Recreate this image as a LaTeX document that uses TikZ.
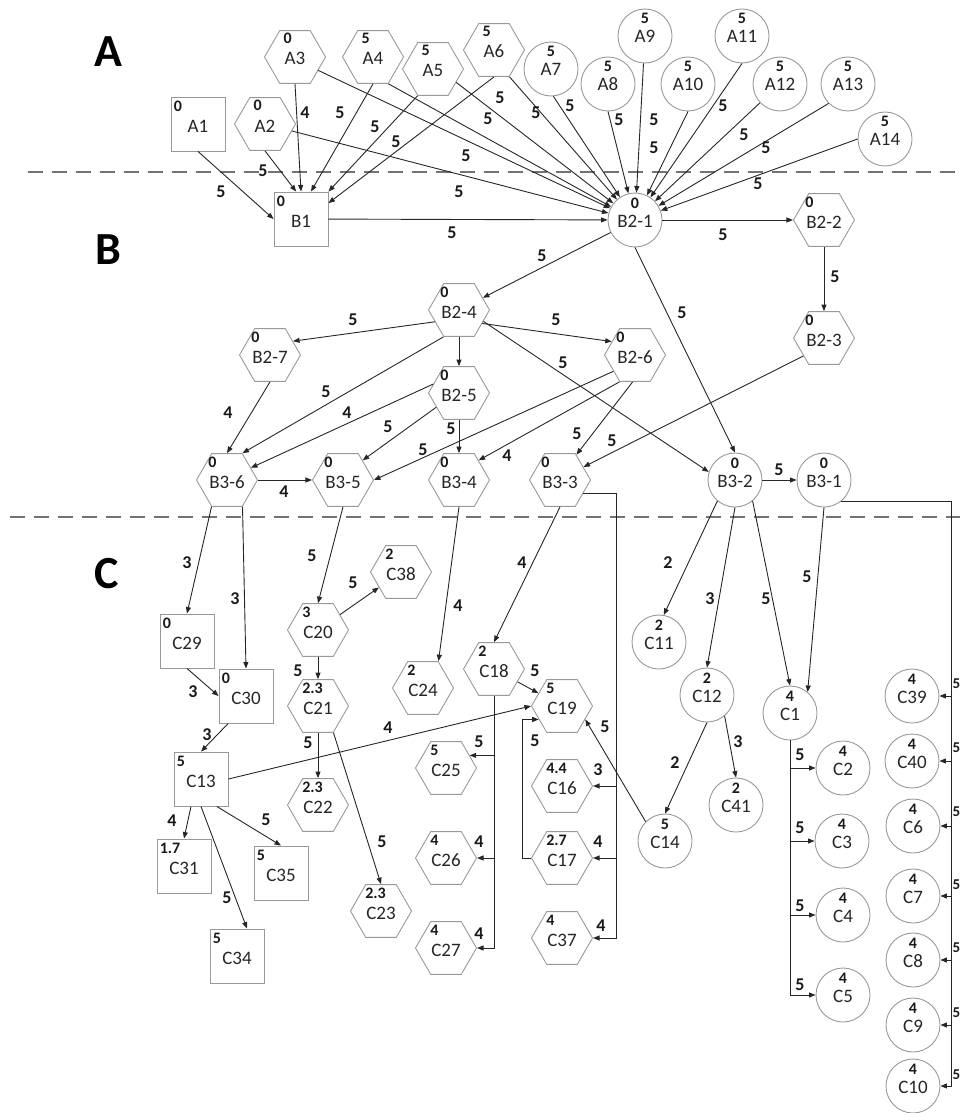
\documentclass[tikz,border=0pt]{standalone}
\usepackage{fontspec}
\setmainfont{Carlito}
\usetikzlibrary{calc,shapes.geometric,arrows.meta}
\definecolor{bordc}{gray}{0.6}
\definecolor{linec}{gray}{0.15}
\definecolor{dashc}{gray}{0.45}
\newcount\elc
\newcommand\SqN[4]{%
  \node[sqs] (#1) at (#2) {};
  \node[lab, anchor=base] (#1l) at ($(#1.center)+(0,8)$) {#4};
  \node[num, anchor=base west] (#1n) at ($(#1.north west)+(3,15)$) {#3};}
\newcommand\HxN[4]{%
  \node[hexs] (#1) at (#2) {};
  \node[lab, anchor=base] (#1l) at ($(#1.center)+(0,8)$) {#4};
  \node[num, anchor=base west] (#1n) at ($(#1l.base west)+(-1,-21)$) {#3};}
\newcommand\CiN[4]{%
  \node[cis] (#1) at (#2) {};
  \node[lab, anchor=base] (#1l) at ($(#1.center)+(0,7)$) {#4};
  \node[num, anchor=base] (#1n) at ($(#1.center)+(0,-12)$) {#3};}
\newcommand\EL[2]{\global\advance\elc by 1 \node[elab] (el\the\elc) at (#1) {#2};}
\newcommand\ER[2]{\global\advance\elc by 1 \node[elab, font=\bfseries\fontsize{15}{15}\selectfont] (el\the\elc) at (#1) {#2};}
\begin{document}
\begin{tikzpicture}[x=1pt,y=-1pt,
  nb/.style={draw=bordc, line width=0.9pt, inner sep=0pt},
  cis/.style={nb, circle, minimum size=54},
  sqs/.style={nb, rectangle, minimum size=54},
  hexs/.style={nb, regular polygon, regular polygon sides=6, minimum size=61},
  lab/.style={inner sep=0pt, text=black!85, font=\fontsize{19}{19}\selectfont},
  num/.style={inner sep=0pt, text=black!90, font=\bfseries\fontsize{16}{16}\selectfont},
  elab/.style={inner sep=0pt, text=black!90, font=\bfseries\fontsize{18}{18}\selectfont},
  sec/.style={inner sep=0pt, font=\bfseries\fontsize{46}{46}\selectfont},
  ed/.style={draw=linec, line width=0.9pt, -{Triangle[length=6.5pt,width=5pt]}},
  dl/.style={draw=dashc, line width=1.3pt, dash pattern=on 15pt off 9pt}]
\useasboundingbox (0,0) rectangle (960,1113);
% section letters and separators
\node[sec] (secA) at (108,52) {A};
\node[sec] (secB) at (108,250) {B};
\node[sec] (secC) at (107,574) {C};
\coordinate (d1a) at (28,172); \coordinate (d1b) at (960,172);
\coordinate (d2a) at (10,517); \coordinate (d2b) at (960,517);
\draw[dl] (d1a) -- (d1b);
\draw[dl] (d2a) -- (d2b);
% ---------- nodes A ----------
\SqN{A1}{198,124}{0}{A1}
\HxN{A2}{265,124}{0}{A2}
\HxN{A3}{295,57}{0}{A3}
\HxN{A4}{373,57}{5}{A4}
\HxN{A5}{433,69}{5}{A5}
\HxN{A6}{494,50}{5}{A6}
\CiN{A7}{551,69}{5}{A7}
\CiN{A8}{608,84}{5}{A8}
\CiN{A9}{645,36}{5}{A9}
\CiN{A10}{688,84}{5}{A10}
\CiN{A11}{742,36}{5}{A11}
\CiN{A12}{780,84}{5}{A12}
\CiN{A13}{848,84}{5}{A13}
\CiN{A14}{885,139}{5}{A14}
% ---------- nodes B ----------
\SqN{B1}{301,219}{0}{B1}
\CiN{B21}{635,220}{0}{B2-1}
\HxN{B22}{824,220}{0}{B2-2}
\HxN{B23}{824,338}{0}{B2-3}
\HxN{B24}{459,310}{0}{B2-4}
\HxN{B25}{459,393}{0}{B2-5}
\HxN{B26}{635,355}{0}{B2-6}
\HxN{B27}{270,355}{0}{B2-7}
\HxN{B36}{227,480}{0}{B3-6}
\HxN{B35}{343,480}{0}{B3-5}
\HxN{B34}{459,480}{0}{B3-4}
\HxN{B33}{560,480}{0}{B3-3}
\CiN{B32}{735,480}{0}{B3-2}
\CiN{B31}{824,480}{0}{B3-1}
% ---------- nodes C ----------
\SqN{C29}{187,641}{0}{C29}
\SqN{C30}{246,696}{0}{C30}
\SqN{C13}{201,779}{5}{C13}
\SqN{C31}{184,866}{1.7}{C31}
\SqN{C35}{281,873}{5}{C35}
\SqN{C34}{237,956}{5}{C34}
\HxN{C20}{318,630}{3}{C20}
\HxN{C38}{401,572}{2}{C38}
\HxN{C21}{318,706}{2.3}{C21}
\HxN{C22}{318,805}{2.3}{C22}
\HxN{C23}{381,911}{2.3}{C23}
\HxN{C24}{423,688}{2}{C24}
\HxN{C25}{446,768}{5}{C25}
\HxN{C26}{446,858}{4}{C26}
\HxN{C27}{446,948}{4}{C27}
\HxN{C18}{494,669}{2}{C18}
\HxN{C19}{562,706}{5}{C19}
\HxN{C16}{562,786}{4.4}{C16}
\HxN{C17}{562,858}{2.7}{C17}
\HxN{C37}{562,938}{4}{C37}
\CiN{C11}{659,642}{2}{C11}
\CiN{C12}{707,695}{2}{C12}
\CiN{C1}{790,713}{4}{C1}
\CiN{C41}{736,805}{2}{C41}
\CiN{C14}{665,841}{5}{C14}
\CiN{C2}{843,768}{4}{C2}
\CiN{C3}{842,841}{4}{C3}
\CiN{C4}{843,915}{4}{C4}
\CiN{C5}{843,995}{4}{C5}
\CiN{C39}{912,696}{4}{C39}
\CiN{C40}{912,761}{4}{C40}
\CiN{C6}{913,826}{4}{C6}
\CiN{C7}{913,896}{4}{C7}
\CiN{C8}{913,960}{4}{C8}
\CiN{C9}{913,1025}{4}{C9}
\CiN{C10}{913,1086}{4}{C10}
% ---------- edges A -> B ----------
\draw[ed] (A1.south) -- (B1.west);
\draw[ed] (A2.south) -- (B1.100);
\draw[ed] (A3.south) -- (B1.north);
\draw[ed] (A4.south) -- (B1.70);
\draw[ed] (A5.-120) -- (B1.north east);
\draw[ed] (A6.south) -- (B1.30);
\draw[ed] (A2) -- (B21);
\draw[ed] (A3.-30) -- (B21);
\draw[ed] (A4.-60) -- (B21);
\draw[ed] (A5.-30) -- (B21);
\draw[ed] (A6.-60) -- (B21);
\draw[ed] (A7.-85) -- (B21);
\draw[ed] (A8.south) -- (B21);
\draw[ed] (A9) -- (B21);
\draw[ed] (A10.south) -- (B21);
\draw[ed] (A11.south) -- (B21);
\draw[ed] (A12) -- (B21);
\draw[ed] (A13.-135) -- (B21);
\draw[ed] (A14.west) -- (B21);
\draw[ed] (B1) -- (B21);
\EL{221,192}{5} \EL{263,171}{5} \EL{305,113}{4} \EL{340,113}{5}
\EL{375,127}{5} \EL{396,142}{5}
\EL{459,192}{5} \EL{466,156}{5} \EL{488,119}{5} \EL{500,98}{5}
\EL{536,113}{5} \EL{570,106}{5} \EL{619,120}{5} \EL{654,120}{5}
\EL{654,148}{5} \EL{723,106}{5} \EL{744,135}{5} \EL{766,148}{5}
\EL{758,184}{5} \EL{452,233}{5}
% ---------- edges B ----------
\draw[ed] (B21) -- (B22);
\draw[ed] (B22) -- (B23);
\draw[ed] (B21) -- (B24);
\draw[ed] (B21.south) -- (B32.north);
\draw[ed] (B24.206) -- (B27.31);
\draw[ed] (B24.-30) -- (B26.150);
\draw[ed] (B24) -- (B25);
\draw[ed] (B24.-120) -- (B36.60);
\draw[ed] (B24.-25) -- (B32.163);
\draw[ed] (B25.161) -- (B36.27);
\draw[ed] (B25.212) -- (B35.45);
\draw[ed] (B25) -- (B34);
\draw[ed] (B26.217) -- (B35.east);
\draw[ed] (B26.-120) -- (B34.45);
\draw[ed] (B26.-95) -- (B33.57);
\draw[ed] (B23.221) -- (B33.29);
\draw[ed] (B27.south) -- (B36.north);
\draw[ed] (B36) -- (B35);
\draw[ed] (B32) -- (B31);
\EL{723,235}{5} \EL{835,277}{5} \EL{542,256}{5} \EL{682,313}{5}
\EL{353,320}{5} \EL{556,320}{5} \EL{326,392}{5} \EL{563,363}{5}
\EL{347,413}{4} \EL{388,427}{5} \EL{451,429}{5} \EL{423,450}{5}
\EL{507,456}{4} \EL{577,434}{5} \EL{612,441}{5} \EL{228,413}{4}
\EL{284,492}{4} \EL{779,470}{5}
% ---------- edges C ----------
\draw[ed] (B36.-120) -- (C29.north);
\draw[ed] (B36.-60) -- (C30.north);
\draw[ed] (C29.south) -- (C30.west);
\draw[ed] (C30.-123) -- (C13.north);
\draw[ed] (C13.250) -- (C31.north);
\draw[ed] (C13.south) -- (C34.70);
\draw[ed] (C13.-60) -- (C35.north);
\draw[ed] (C13.east) -- (C19.west);
\draw[ed] (B35.south) -- (C20.north);
\draw[ed] (C20) -- (C38);
\draw[ed] (C20) -- (C21);
\draw[ed] (C21) -- (C22);
\draw[ed] (C21.-60) -- (C23.north);
\draw[ed] (B34.south) -- (C24.60);
\draw[ed] (B33.south) -- (C18.north);
\draw[ed] (C18) -- (C19);
\draw[ed] (C18.south) |- (C27.east);
\draw[ed] (C18.south |- C26.east) -- (C26.east);
\draw[ed] (C18.south |- C25.28) -- (C25.28);
\draw[ed] (C17.west) -- ++(-9,0) |- (C19.210);
\coordinate (bt) at (616,0);
\draw[ed] (B33.-30) -- (B33.-30 -| bt) |- (C37.east);
\draw[ed] (bt |- C16.east) -- (C16.east);
\draw[ed] (bt |- C17.east) -- (C17.east);
\draw[ed] (C14.135) -- (C19.-30);
\draw[ed] (B32.-130) -- (C11.80);
\draw[ed] (B32.south) -- (C12.north);
\draw[ed] (B32.-50) -- (C1.north);
\draw[ed] (B31.south) -- (C1.50);
\draw[ed] (C12.south) -- (C14.north);
\draw[ed] (C12.-50) -- (C41.north);
\draw[ed] (C1.south) |- (C5.west);
\foreach \n in {C2,C3,C4} \draw[ed] (C1.south |- \n.west) -- (\n.west);
\coordinate (rt) at (951,0);
\draw[ed] (B31.-51) -- (B31.-51 -| rt) |- (C10.east);
\foreach \n in {C39,C40,C6,C7,C8,C9} \draw[ed] (rt |- \n.east) -- (\n.east);
\EL{187,563}{3} \EL{235,599}{3} \EL{193,692}{3} \EL{207,735}{3}
\EL{172,821}{4} \EL{227,898}{5} \EL{266,820}{5} \EL{388,728}{4}
\EL{312,556}{5} \EL{353,583}{5} \EL{298,671}{5} \EL{308,743}{5}
\EL{382,842}{5} \EL{458,606}{4} \EL{522,563}{4} \EL{535,671}{5}
\EL{479,742}{5} \EL{479,842}{4} \EL{479,934}{4} \EL{535,741}{5}
\EL{598,770}{3} \EL{598,842}{4} \EL{601,926}{4} \EL{605,727}{5}
\EL{668,563}{2} \EL{710,599}{3} \EL{766,599}{5} \EL{807,577}{5}
\EL{675,763}{2} \EL{738,742}{3}
\EL{800,755}{5} \EL{800,828}{5} \EL{800,906}{5} \EL{800,985}{5}
\ER{956.3,684}{5} \ER{956.3,748}{5} \ER{956.3,812}{5} \ER{956.3,885}{5}
\ER{956.3,948}{5} \ER{956.3,1013}{5} \ER{956.3,1075}{5}
\end{tikzpicture}
\end{document}
